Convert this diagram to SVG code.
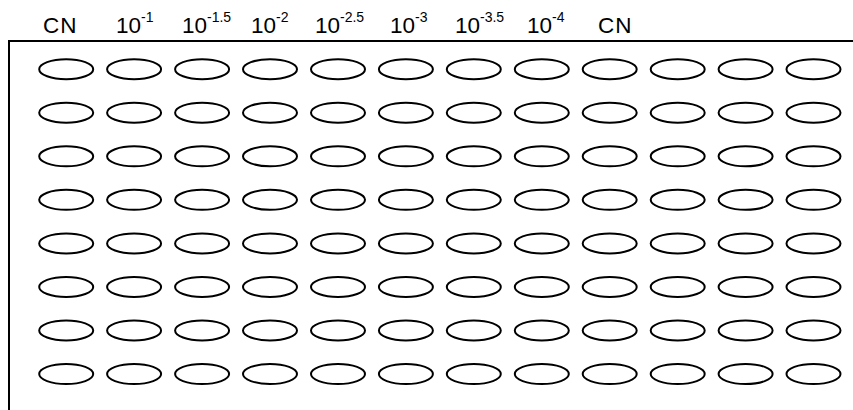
<svg xmlns="http://www.w3.org/2000/svg" width="853" height="410" viewBox="0 0 853 410">
<style>
.lbl{font-family:"Liberation Sans",Arial,sans-serif;font-size:22.5px;fill:#000}
.sup{font-size:14px}
.well{fill:none;stroke:#000;stroke-width:2}
.frame{fill:none;stroke:#000;stroke-width:2}
</style>
<defs>
<ellipse id="w" cx="0" cy="0" rx="27" ry="10" class="well"/>
</defs>
<g id="frame"><path class="frame" d="M9 410 V41 H853"/></g>
<g id="labels">
<text class="lbl" x="43" y="33" letter-spacing="1">CN</text>
<text class="lbl" x="116" y="33">10<tspan class="sup" y="22">-1</tspan></text>
<text class="lbl" x="182" y="33">10<tspan class="sup" y="22">-1.5</tspan></text>
<text class="lbl" x="251" y="33">10<tspan class="sup" y="22">-2</tspan></text>
<text class="lbl" x="315" y="33">10<tspan class="sup" y="22">-2.5</tspan></text>
<text class="lbl" x="390" y="33">10<tspan class="sup" y="22">-3</tspan></text>
<text class="lbl" x="455" y="33">10<tspan class="sup" y="22">-3.5</tspan></text>
<text class="lbl" x="527" y="33">10<tspan class="sup" y="22">-4</tspan></text>
<text class="lbl" x="598" y="33" letter-spacing="1">CN</text>
</g>
<g id="wells">
<g id="row1" transform="translate(0,69.2)">
<use href="#w" x="66.2"/><use href="#w" x="134.1"/><use href="#w" x="202.1"/><use href="#w" x="270"/><use href="#w" x="338"/><use href="#w" x="405.9"/><use href="#w" x="473.8"/><use href="#w" x="541.8"/><use href="#w" x="609.7"/><use href="#w" x="677.7"/><use href="#w" x="745.6"/><use href="#w" x="813.5"/>
</g>
<g id="row2" transform="translate(0,112.7)">
<use href="#w" x="66.2"/><use href="#w" x="134.1"/><use href="#w" x="202.1"/><use href="#w" x="270"/><use href="#w" x="338"/><use href="#w" x="405.9"/><use href="#w" x="473.8"/><use href="#w" x="541.8"/><use href="#w" x="609.7"/><use href="#w" x="677.7"/><use href="#w" x="745.6"/><use href="#w" x="813.5"/>
</g>
<g id="row3" transform="translate(0,156.3)">
<use href="#w" x="66.2"/><use href="#w" x="134.1"/><use href="#w" x="202.1"/><use href="#w" x="270"/><use href="#w" x="338"/><use href="#w" x="405.9"/><use href="#w" x="473.8"/><use href="#w" x="541.8"/><use href="#w" x="609.7"/><use href="#w" x="677.7"/><use href="#w" x="745.6"/><use href="#w" x="813.5"/>
</g>
<g id="row4" transform="translate(0,199.8)">
<use href="#w" x="66.2"/><use href="#w" x="134.1"/><use href="#w" x="202.1"/><use href="#w" x="270"/><use href="#w" x="338"/><use href="#w" x="405.9"/><use href="#w" x="473.8"/><use href="#w" x="541.8"/><use href="#w" x="609.7"/><use href="#w" x="677.7"/><use href="#w" x="745.6"/><use href="#w" x="813.5"/>
</g>
<g id="row5" transform="translate(0,243.4)">
<use href="#w" x="66.2"/><use href="#w" x="134.1"/><use href="#w" x="202.1"/><use href="#w" x="270"/><use href="#w" x="338"/><use href="#w" x="405.9"/><use href="#w" x="473.8"/><use href="#w" x="541.8"/><use href="#w" x="609.7"/><use href="#w" x="677.7"/><use href="#w" x="745.6"/><use href="#w" x="813.5"/>
</g>
<g id="row6" transform="translate(0,286.9)">
<use href="#w" x="66.2"/><use href="#w" x="134.1"/><use href="#w" x="202.1"/><use href="#w" x="270"/><use href="#w" x="338"/><use href="#w" x="405.9"/><use href="#w" x="473.8"/><use href="#w" x="541.8"/><use href="#w" x="609.7"/><use href="#w" x="677.7"/><use href="#w" x="745.6"/><use href="#w" x="813.5"/>
</g>
<g id="row7" transform="translate(0,330.4)">
<use href="#w" x="66.2"/><use href="#w" x="134.1"/><use href="#w" x="202.1"/><use href="#w" x="270"/><use href="#w" x="338"/><use href="#w" x="405.9"/><use href="#w" x="473.8"/><use href="#w" x="541.8"/><use href="#w" x="609.7"/><use href="#w" x="677.7"/><use href="#w" x="745.6"/><use href="#w" x="813.5"/>
</g>
<g id="row8" transform="translate(0,374)">
<use href="#w" x="66.2"/><use href="#w" x="134.1"/><use href="#w" x="202.1"/><use href="#w" x="270"/><use href="#w" x="338"/><use href="#w" x="405.9"/><use href="#w" x="473.8"/><use href="#w" x="541.8"/><use href="#w" x="609.7"/><use href="#w" x="677.7"/><use href="#w" x="745.6"/><use href="#w" x="813.5"/>
</g>
</g>
</svg>
